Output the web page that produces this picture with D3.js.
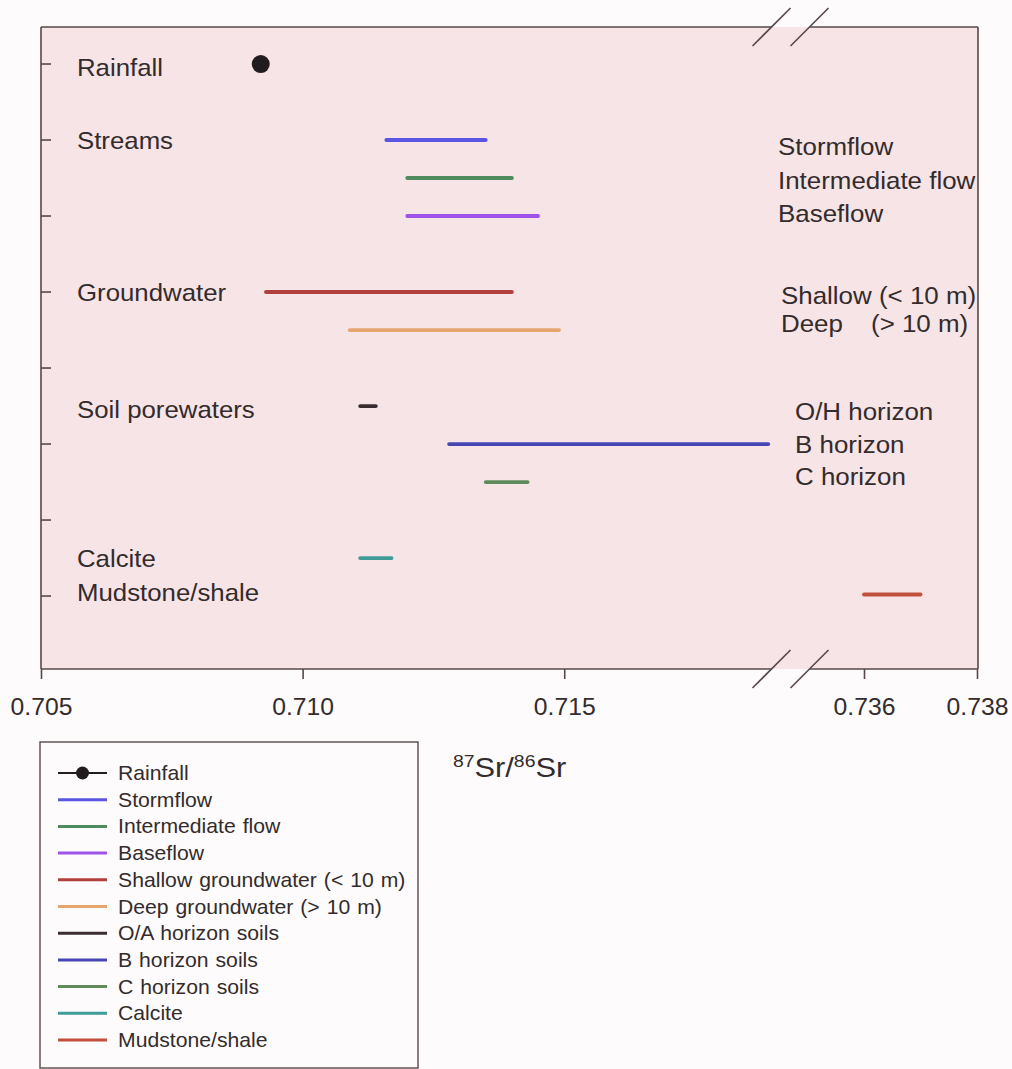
<!DOCTYPE html>
<html>
<head>
<meta charset="utf-8">
<script src="https://cdn.jsdelivr.net/npm/d3@7"></script>
<style>
  html, body { margin: 0; padding: 0; background: #fdfbfb; }
  svg { display: block; }
  text { font-family: "Liberation Sans", Arial, Helvetica, sans-serif; fill: #332b2c; }
</style>
</head>
<body>
<svg id="chart" width="1012" height="1069"></svg>
<script>
// ---- data -------------------------------------------------------------
// 87Sr/86Sr ranges; row = vertical slot (1 = top tick, 8 = bottom tick)
const seriesNames = ["Rainfall", "Stormflow", "Intermediate flow", "Baseflow",
  "Shallow groundwater (< 10 m)", "Deep groundwater (> 10 m)", "O/A horizon soils",
  "B horizon soils", "C horizon soils", "Calcite", "Mudstone/shale"];
const seriesMin = [0.7092, 0.7116, 0.7120, 0.7120, 0.7093, 0.7109, 0.7111, 0.7128, 0.7135, 0.7111, 0.7360];
const seriesMax = [0.7092, 0.7135, 0.7140, 0.7145, 0.7140, 0.7149, 0.7114, 0.7189, 0.7143, 0.7117, 0.7370];
const seriesRow = [1, 2, 2.5, 3, 4, 4.5, 5.5, 6, 6.5, 7.5, 7.98];
const seriesColor = ["#231c1e", "#5a55e2", "#4f8a5e", "#9d52e8", "#b0403f", "#e6a56c",
  "#3a2c30", "#4646b4", "#5f8a5a", "#3f9c98", "#c0503c"];

// group labels on the left and sub-labels on the right
const groupLabels = ["Rainfall", "Streams", "Groundwater", "Soil porewaters", "Calcite", "Mudstone/shale"];
const groupRows = [1.05, 2, 4, 5.55, 7.5, 7.96];
const subLabels = ["Stormflow", "Intermediate flow", "Baseflow", "Shallow (< 10 m)", "Deep", "O/H horizon", "B horizon", "C horizon"];
const subRows = [2.08, 2.53, 2.97, 4.04, 4.41, 5.57, 6.0, 6.43];
const subIndent = [0, 0, 0, 1, 1, 2, 2, 2];

// broken x axis: two segments
const xTicksLeft = [0.705, 0.710, 0.715];
const xTicksRight = [0.736, 0.738];
const yTickRows = [1, 2, 3, 4, 5, 6, 7, 8];

// ---- layout -----------------------------------------------------------
const svg = d3.select("#chart");
const plot = { left: 41, right: 978, top: 27, bottom: 669 };

const xA = d3.scaleLinear().domain([0.705, 0.719]).range([41, 773.5]);
const xB = d3.scaleLinear().domain([0.735, 0.738]).range([807.5, 977]);
const x = v => (v < 0.725 ? xA(v) : xB(v));
const y = d3.scaleLinear().domain([0.513, 8.96]).range([plot.top, plot.bottom]);

const ink = "#574849";

function stretchText(sel, px, py, str, size, sx, anchor) {
  return sel.append("text")
    .attr("transform", `translate(${px},${py}) scale(${sx},1)`)
    .attr("font-size", size)
    .attr("text-anchor", anchor || "start")
    .text(str);
}

// plot background
svg.append("rect")
  .attr("x", plot.left).attr("y", plot.top)
  .attr("width", plot.right - plot.left).attr("height", plot.bottom - plot.top)
  .attr("fill", "#f6e4e6");

// frame with gap at the axis break
const breakL = xA.range()[1], breakR = xB.range()[0];
const frame = svg.append("g").attr("stroke", ink).attr("stroke-width", 1.6).attr("fill", "none");
[plot.top, plot.bottom].forEach(yy => {
  frame.append("line").attr("x1", plot.left).attr("x2", breakL - 2).attr("y1", yy).attr("y2", yy);
  frame.append("line").attr("x1", breakR + 2).attr("x2", plot.right).attr("y1", yy).attr("y2", yy);
  [breakL - 2, breakR + 2].forEach(cx => {
    frame.append("line")
      .attr("x1", cx - 19).attr("y1", yy + 19)
      .attr("x2", cx + 19).attr("y2", yy - 19);
  });
});
frame.append("line").attr("x1", plot.left).attr("x2", plot.left).attr("y1", plot.top).attr("y2", plot.bottom);
frame.append("line").attr("x1", plot.right).attr("x2", plot.right).attr("y1", plot.top).attr("y2", plot.bottom);

// y ticks (inside)
svg.append("g").selectAll("line").data(yTickRows).join("line")
  .attr("x1", plot.left).attr("x2", plot.left + 10)
  .attr("y1", d => y(d)).attr("y2", d => y(d))
  .attr("stroke", ink).attr("stroke-width", 1.6);

// x axes (ticks below, labels)
function drawXAxis(scale, ticks) {
  const g = svg.append("g").attr("transform", `translate(0,${plot.bottom})`);
  g.call(d3.axisBottom(scale).tickValues(ticks).tickSize(10).tickSizeOuter(0).tickFormat(d3.format(".3f")));
  g.select(".domain").remove();
  g.selectAll(".tick line").attr("stroke", ink).attr("stroke-width", 1.6);
  g.selectAll(".tick text").remove();
  g.selectAll(".tick").each(function(d) {
    stretchText(d3.select(this), 0, 46, d3.format(".3f")(d), 24, 1.03, "middle");
  });
}
drawXAxis(xA, xTicksLeft);
drawXAxis(xB, xTicksRight);

// range bars
const marks = svg.append("g");
seriesNames.forEach((name, i) => {
  if (seriesMin[i] === seriesMax[i]) {
    marks.append("circle")
      .attr("cx", x(seriesMin[i])).attr("cy", y(seriesRow[i])).attr("r", 9)
      .attr("fill", seriesColor[i]);
  } else {
    marks.append("line")
      .attr("x1", x(seriesMin[i])).attr("x2", x(seriesMax[i]))
      .attr("y1", y(seriesRow[i])).attr("y2", y(seriesRow[i]))
      .attr("stroke", seriesColor[i]).attr("stroke-width", 3.8)
      .attr("stroke-linecap", "round");
  }
});

// left group labels
groupLabels.forEach((t, i) => stretchText(svg, 77, y(groupRows[i]) + 8.5, t, 24, 1.075));

// right sub-labels
const subX = [778, 781, 795];
subLabels.forEach((t, i) => {
  stretchText(svg, subX[subIndent[i]], y(subRows[i]) + 8.5, t, 24, 1.08);
});
stretchText(svg, 871, y(subRows[4]) + 8.5, "(> 10 m)", 24, 1.08);

// axis title 87Sr/86Sr
const title = svg.append("text")
  .attr("transform", "translate(453,777) scale(1.14,1)")
  .attr("font-size", 27);
title.append("tspan").attr("font-size", 17).attr("dy", -10).text("87");
title.append("tspan").attr("dy", 10).text("Sr/");
title.append("tspan").attr("font-size", 17).attr("dy", -10).text("86");
title.append("tspan").attr("dy", 10).text("Sr");

// legend
const legend = svg.append("g");
legend.append("rect")
  .attr("x", 40).attr("y", 742).attr("width", 378).attr("height", 326)
  .attr("fill", "none").attr("stroke", ink).attr("stroke-width", 1.4);
const ly = d3.scaleLinear().domain([0, 10]).range([773, 1040]);
seriesNames.forEach((name, i) => {
  const yy = ly(i);
  legend.append("line")
    .attr("x1", 58).attr("x2", 107).attr("y1", yy).attr("y2", yy)
    .attr("stroke", seriesColor[i]).attr("stroke-width", i === 0 ? 2 : 3);
  if (seriesMin[i] === seriesMax[i]) {
    legend.append("circle").attr("cx", 82.5).attr("cy", yy).attr("r", 6.5).attr("fill", seriesColor[i]);
  }
  stretchText(legend, 118, yy + 7, name, 20, 1.06).attr("word-spacing", 1);
});
</script>
</body>
</html>
